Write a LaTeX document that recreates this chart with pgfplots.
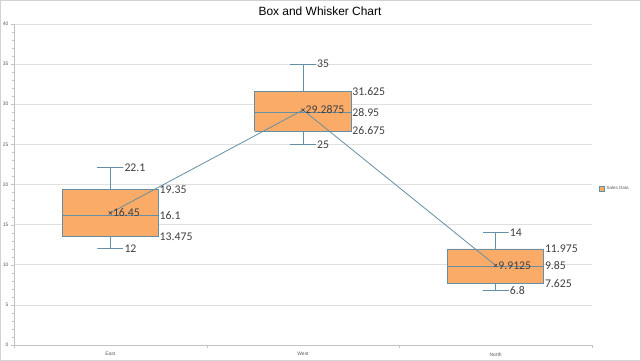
\documentclass[border=0pt]{standalone}
\usepackage{pgfplots}
\pgfplotsset{compat=1.18}
\usepackage{pgfplotstable}
\usepackage{fontspec}
\setmainfont{Liberation Sans}
\newfontfamily\carlito{Carlito}
\definecolor{boxfill}{RGB}{251,171,104}
\definecolor{boxline}{RGB}{100,143,165}
\definecolor{lblcol}{RGB}{64,64,64}
\definecolor{gridcol}{RGB}{224,224,224}
\definecolor{axcol}{RGB}{195,195,195}
\definecolor{tickcol}{RGB}{90,90,90}

% whisker-end labels (x = category centre + half cap width)
\pgfplotstableread{
x y label
0.0675 22.1 22.1
0.0675 12 12
1.0675 35 35
1.0675 25 25
2.0675 14 14
2.0675 6.8 6.8
}\whisklabels
% box labels (x = category centre + half box width)
\pgfplotstableread{
x y label
0.25 19.35 19.35
0.25 16.1 16.1
0.25 13.475 13.475
1.25 31.625 31.625
1.25 28.95 28.95
1.25 26.675 26.675
2.25 11.975 11.975
2.25 9.85 9.85
2.25 7.625 7.625
}\boxlabels
% means
\pgfplotstableread{
x y label
0 16.45 16.45
1 29.2875 29.2875
2 9.9125 9.9125
}\means

\begin{document}
\begin{tikzpicture}
\useasboundingbox (0,0) rectangle (641bp,361bp);
\fill[white] (0,0) rectangle (641bp,361bp);
\draw[gray!35, line width=1.2bp] (0.6bp,0.6bp) rectangle (640.4bp,360.4bp);
\begin{axis}[
  at={(14bp,16bp)}, anchor=south west,
  scale only axis, width=578bp, height=321bp,
  clip=false,
  xmin=-0.5, xmax=2.5, ymin=0, ymax=40,
  axis x line*=bottom, axis y line*=left,
  axis line style={-, draw=axcol},
  xtick={0,1,2}, xticklabels={East,West,North},
  major x tick style={draw=none},
  extra x ticks={-0.5,0.5,1.5,2.5}, extra x tick labels={},
  extra x tick style={grid=none, major tick length=3bp, tick align=outside, major x tick style={draw=axcol}},
  ytick={0,5,...,40}, minor y tick num=4,
  tick align=outside, major tick length=3bp, minor tick length=2bp,
  y tick style={draw=axcol}, minor y tick style={draw=axcol},
  ymajorgrids, major grid style={draw=gridcol, line width=0.7bp},
  /pgf/number format/assume math mode=true,
  tick label style={font=\fontsize{5}{6}\selectfont, text=tickcol},
  yticklabel style={xshift=1bp},
  xticklabel style={yshift=-1bp},
  title={Box and Whisker Chart},
  title style={at={(0.5,1)}, anchor=center, xshift=17bp, yshift=7bp, font=\fontsize{12}{14}\selectfont},
  legend image code/.code={\draw[#1] (0bp,-2.5bp) rectangle (5bp,2.5bp);},
  legend style={at={(1.012,0.486)}, anchor=west, draw=none, fill=none,
    font=\fontsize{4.5}{5}\selectfont, text=tickcol, inner sep=0pt},
  wh/.style={draw=boxline, line width=0.8bp, mark=none},
  bx/.style={draw=boxline, fill=boxfill, line width=0.8bp, mark=none},
  lbl/.style={only marks, mark=none, nodes near coords, point meta=explicit symbolic,
    nodes near coords style={anchor=west, inner sep=1bp, font=\carlito\fontsize{11.8}{13}\selectfont, text=lblcol}},
]
\addlegendimage{fill=boxfill, draw=boxline, line width=0.5bp}
\addlegendentry{Sales Data}
% East: min 12, Q1 13.475, median 16.1, Q3 19.35, max 22.1
\addplot[wh] coordinates {(-0.0675,22.1) (0.0675,22.1) (0,22.1) (0,12) (-0.0675,12) (0.0675,12)};
\addplot[bx] coordinates {(-0.25,13.475) (0.25,13.475) (0.25,19.35) (-0.25,19.35) (-0.25,13.475)};
\addplot[wh] coordinates {(-0.25,16.1) (0.25,16.1)};
% West: min 25, Q1 26.675, median 28.95, Q3 31.625, max 35
\addplot[wh] coordinates {(0.9325,35) (1.0675,35) (1,35) (1,25) (0.9325,25) (1.0675,25)};
\addplot[bx] coordinates {(0.75,26.675) (1.25,26.675) (1.25,31.625) (0.75,31.625) (0.75,26.675)};
\addplot[wh] coordinates {(0.75,28.95) (1.25,28.95)};
% North: min 6.8, Q1 7.625, median 9.85, Q3 11.975, max 14
\addplot[wh] coordinates {(1.9325,14) (2.0675,14) (2,14) (2,6.8) (1.9325,6.8) (2.0675,6.8)};
\addplot[bx] coordinates {(1.75,7.625) (2.25,7.625) (2.25,11.975) (1.75,11.975) (1.75,7.625)};
\addplot[wh] coordinates {(1.75,9.85) (2.25,9.85)};
% mean line
\addplot[draw=boxline, line width=0.8bp, mark=x, mark size=2.2bp, mark options={draw=lblcol, line width=0.6bp}] table[x=x, y=y] {\means};
% labels
\addplot[lbl] table[x=x, y=y, meta=label] {\whisklabels};
\addplot[lbl] table[x=x, y=y, meta=label] {\boxlabels};
\addplot[lbl, nodes near coords style={inner sep=0bp, xshift=2.5bp}] table[x=x, y=y, meta=label] {\means};
\end{axis}
\end{tikzpicture}
\end{document}
